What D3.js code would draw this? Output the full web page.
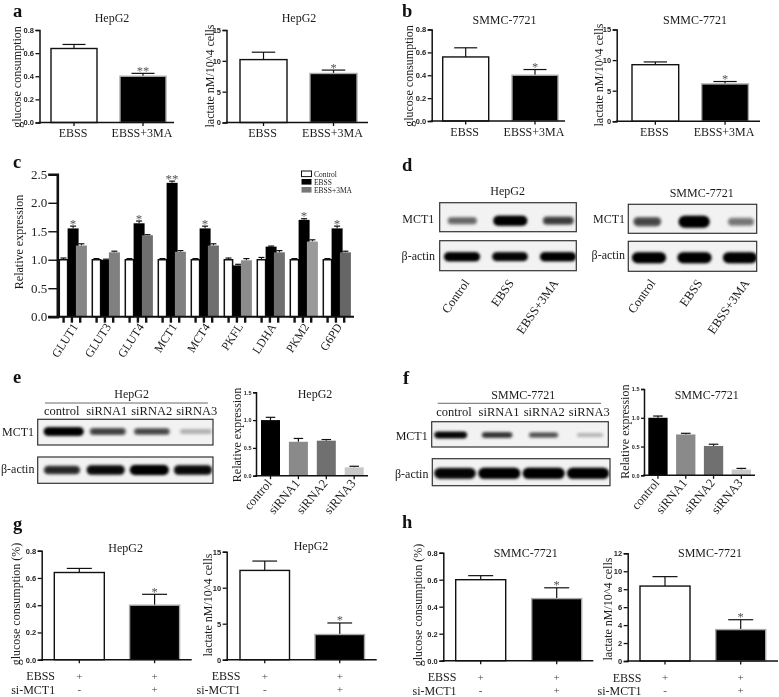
<!DOCTYPE html>
<html><head><meta charset="utf-8">
<script src="https://cdn.jsdelivr.net/npm/d3@7/dist/d3.min.js"></script>
<style>html,body{margin:0;padding:0;background:#fff}svg{display:block;filter:blur(0.35px)}</style>
</head><body><div id="c"></div>
<script>
// ---------- data ----------
const treatCats = ["EBSS", "EBSS+3MA"];
const aGlucose = [0.64, 0.40], aGlucoseErr = [0.675, 0.425], aGlucoseSig = ["", "**"];
const aLactate = [10.2, 7.95], aLactateErr = [11.4, 8.5], aLactateSig = ["", "*"];
const bGlucose = [0.56, 0.40], bGlucoseErr = [0.64, 0.45], bGlucoseSig = ["", "*"];
const bLactate = [9.25, 6.1], bLactateErr = [9.7, 6.5], bLactateSig = ["", "*"];

const genes = ["GLUT1","GLUT3","GLUT4","MCT1","MCT4","PKFL","LDHA","PKM2","G6PD"];
const cSeries = ["Control","EBSS","EBSS+3MA"];
const cControl = [1.0,1.0,1.0,1.0,1.0,1.0,1.0,1.0,1.0];
const cControlErr = [1.03,1.02,1.02,1.02,1.02,1.03,1.04,1.02,1.02];
const cEbss = [1.55,1.0,1.64,2.35,1.55,0.9,1.23,1.7,1.55];
const cEbssErr = [1.59,1.01,1.68,2.38,1.59,0.92,1.24,1.72,1.59];
const c3ma = [1.25,1.13,1.43,1.14,1.25,0.99,1.13,1.32,1.13];
const c3maErr = [1.28,1.15,1.44,1.16,1.28,1.02,1.16,1.35,1.15];
const cSig = ["*","","*","**","*","","","*","*"];
const c3maShades = ["#858585","#808080","#6f6f6f","#808080","#6e6e6e","#8c8c8c","#707070","#999999","#666666"];

const siCats = ["control","siRNA1","siRNA2","siRNA3"];
const eExpr = [1.0,0.61,0.63,0.15], eExprErr = [1.05,0.67,0.65,0.17];
const fExpr = [1.0,0.71,0.51,0.10], fExprErr = [1.03,0.73,0.54,0.12];

const mctCats = ["EBSS +","EBSS + si-MCT1"];
const gGlucose = [0.64,0.40], gGlucoseErr = [0.67,0.48];
const gLactate = [12.4,3.5], gLactateErr = [13.7,5.1];
const hGlucose = [0.60,0.46], hGlucoseErr = [0.63,0.54];
const hLactate = [8.35,3.5], hLactateErr = [9.4,4.6];
const oneSig = ["","*"];
const ebssRow = ["+","+"], siRow = ["-","+"];

const dLanes = ["Control","EBSS","EBSS+3MA"];
const dHepMct = [0.42,1.0,0.6], dHepActin = [1,0.95,1];
const dSmmcMct = [0.55,1.0,0.36], dSmmcActin = [1,1,1];
const eMct = [1.0,0.58,0.55,0.18], eActin = [0.7,0.9,1,0.9];
const fMct = [0.95,0.68,0.52,0.18], fActin = [0.95,1,1,1];

const yGlu = [0,0.2,0.4,0.6,0.8], yLac15 = [0,5,10,15], yLac12 = [0,2,4,6,8,10,12];
const yExpr = [0,0.5,1.0,1.5], yC = [0,0.5,1.0,1.5,2.0,2.5];

// ---------- drawing ----------
const W = 779, H = 697, SERIF = "'Liberation Serif','Times New Roman',serif", SANS = "'Liberation Sans',Arial,sans-serif";
const svg = d3.select("#c").append("svg").attr("width", W).attr("height", H);
const defs = svg.append("defs");
defs.append("filter").attr("id","bl").attr("x","-30%").attr("y","-80%").attr("width","160%").attr("height","260%")
  .append("feGaussianBlur").attr("stdDeviation",1.6);

function txt(s, x, y, o = {}) {
  const t = svg.append("text").attr("transform", `translate(${x},${y})` + (o.rot ? ` rotate(${o.rot})` : ""))
    .attr("font-family", o.fam || SERIF).attr("font-size", o.size || 12).attr("fill", o.fill || "#1a1a1a")
    .attr("font-weight", o.w || "normal").attr("text-anchor", o.a || "middle").text(s);
  return t;
}

function barPanel(p) {
  const bandW = (p.cats.length - 1) * p.step + p.bw;
  const x = d3.scaleBand().domain(p.cats).range([p.x0, p.x0 + bandW]).paddingInner(1 - p.bw / p.step).paddingOuter(0);
  const y = d3.scaleLinear().domain([0, p.maxV]).range([p.yBot, p.yTop]);
  const g = svg.append("g");
  const bs = g.selectAll("g.b").data(p.cats).join("g");
  bs.each(function (c, i) {
    const n = d3.select(this), cap = p.bw * (p.capFrac || 0.25), cx = x(c) + x.bandwidth() / 2;
    n.append("line").attr("x1", cx).attr("x2", cx).attr("y1", y(p.vals[i])).attr("y2", y(p.errs[i])).attr("stroke", "#111").attr("stroke-width", 1.2);
    n.append("line").attr("x1", cx - cap).attr("x2", cx + cap).attr("y1", y(p.errs[i])).attr("y2", y(p.errs[i])).attr("stroke", "#111").attr("stroke-width", 1.2);
    const f = p.fills[i], outlined = f === "#fff" || p.ring;
    n.append("rect").attr("x", x(c)).attr("width", x.bandwidth()).attr("y", y(p.vals[i])).attr("height", y(0) - y(p.vals[i]))
      .attr("fill", f).attr("stroke", outlined ? (f === "#fff" ? "#111" : "#aaa") : "none").attr("stroke-width", 1.4);
    if (p.sig && p.sig[i]) txt(p.sig[i], cx, y(p.errs[i]) + 1.5, { fill: "#555", size: 12.5 });
  });
  const ax = d3.axisLeft(y).tickValues(p.ticks).tickSize(p.tick || 4).tickPadding(1.5).tickFormat(p.fmt);
  const ga = g.append("g").attr("transform", `translate(${p.axisX},0)`).call(ax);
  ga.select(".domain").attr("stroke-width", 1.5).attr("stroke", "#111");
  ga.selectAll(".tick line").attr("stroke-width", 1.3).attr("stroke", "#111");
  ga.selectAll("text").attr("font-family", SANS).attr("font-weight", "bold").attr("font-size", p.tickFont || 7.5).attr("fill", "#222");
  g.append("line").attr("x1", p.axisX - 1).attr("x2", p.endX).attr("y1", y(0)).attr("y2", y(0)).attr("stroke", "#111").attr("stroke-width", 1.5);
  // x ticks
  const xa = d3.axisBottom(x).tickSize(3.5).tickFormat("");
  const gx = g.append("g").attr("transform", `translate(0,${y(0)})`).call(xa);
  gx.select(".domain").remove();
  gx.selectAll(".tick line").attr("stroke", "#111").attr("stroke-width", 1.3);
  p.cats.forEach(c => {
    const cx = x(c) + x.bandwidth() / 2;
    if (p.labels === "flat") txt(c, cx - 1, y(0) + 14.5);
    if (p.labels === "rot") txt(c, cx + 2, y(0) + 8, { a: "end", rot: -50, size: 12.5 });
  });
  if (p.rowX != null) {
    const ry1 = y(0) + 20.5, ry2 = y(0) + 34;
    p.cats.forEach((c, i) => {
      const cx = x(c) + x.bandwidth() / 2;
      txt(ebssRow[i], cx, ry1 - 0.5, { size: 11, fill: "#444" });
      txt(siRow[i], cx, ry2 - 1, { size: 11, fill: "#444" });
    });
    txt("EBSS", p.rowX, ry1);
    txt("si-MCT1", p.rowX - 7.5, ry2);
  }
  txt(p.title, p.titleX, p.titleY);
  txt(p.yLabel, p.yLabX, p.yLabY, { rot: -90 });
}

const f1 = d3.format(".1f"), f0 = d3.format("d");
const ink = { w: "#fff", k: "#000" };

barPanel({ cats: treatCats, vals: aGlucose, errs: aGlucoseErr, sig: aGlucoseSig, fills: [ink.w, ink.k], ring: true, x0: 51, bw: 46, step: 69, axisX: 39.5, yTop: 30, yBot: 122.5, maxV: 0.8, endX: 174, ticks: yGlu, fmt: f1, labels: "flat", title: "HepG2", titleX: 112, titleY: 22, yLabel: "glucose consumption", yLabX: 20.5, yLabY: 77 });
barPanel({ cats: treatCats, vals: aLactate, errs: aLactateErr, sig: aLactateSig, fills: [ink.w, ink.k], ring: true, x0: 240, bw: 47, step: 70, axisX: 226.5, yTop: 30, yBot: 122.5, maxV: 15, endX: 368, ticks: yLac15, fmt: f0, labels: "flat", title: "HepG2", titleX: 299, titleY: 22, yLabel: "lactate nM/10^4 cells", yLabX: 214, yLabY: 76 });
barPanel({ cats: treatCats, vals: bGlucose, errs: bGlucoseErr, sig: bGlucoseSig, fills: [ink.w, ink.k], ring: true, x0: 442.7, bw: 46, step: 69.3, axisX: 431.7, yTop: 29.5, yBot: 121, maxV: 0.8, endX: 565, ticks: yGlu, fmt: f1, labels: "flat", title: "SMMC-7721", titleX: 504.5, titleY: 24, yLabel: "glucose consumption", yLabX: 412.7, yLabY: 76 });
barPanel({ cats: treatCats, vals: bLactate, errs: bLactateErr, sig: bLactateSig, fills: [ink.w, ink.k], ring: true, x0: 632, bw: 46.7, step: 69.7, axisX: 616.7, yTop: 29.5, yBot: 121.3, maxV: 15, endX: 760, ticks: yLac15, fmt: f0, labels: "flat", title: "SMMC-7721", titleX: 695, titleY: 24, yLabel: "lactate nM/10^4 cells", yLabX: 603, yLabY: 75 });

// panel c
(function () {
  const x0 = d3.scaleBand().domain(genes).range([59.3, 59.3 + 33 * genes.length]);
  const x1 = d3.scalePoint().domain(cSeries).range([0, 16.6]);
  const y = d3.scaleLinear().domain([0, 2.5]).range([316.7, 174.3]);
  const vals = [cControl, cEbss, c3ma], errs = [cControlErr, cEbssErr, c3maErr];
  const g = svg.append("g");
  cSeries.forEach((s, si) => {
    genes.forEach((gn, i) => {
      const bx = x0(gn) + x1(s), w = si === 0 ? 8.3 : 11, cx = bx + w / 2;
      g.append("line").attr("x1", cx).attr("x2", cx).attr("y1", y(vals[si][i])).attr("y2", y(errs[si][i])).attr("stroke", "#111").attr("stroke-width", 1);
      g.append("line").attr("x1", cx - 3).attr("x2", cx + 3).attr("y1", y(errs[si][i])).attr("y2", y(errs[si][i])).attr("stroke", "#111").attr("stroke-width", 1.2);
      g.append("rect").attr("x", bx).attr("width", w).attr("y", y(vals[si][i])).attr("height", y(0) - y(vals[si][i]))
        .attr("fill", si === 0 ? "#fff" : si === 1 ? "#000" : c3maShades[i])
        .attr("stroke", si === 0 ? "#111" : "none").attr("stroke-width", 1.5);
      g.append("line").attr("x1", bx + 4.3).attr("x2", bx + 4.3).attr("y1", y(0)).attr("y2", y(0) + 6).attr("stroke", "#111").attr("stroke-width", 2.4);
    });
  });
  genes.forEach((gn, i) => {
    if (cSig[i]) txt(cSig[i], x0(gn) + x1("EBSS") + 5.5, y(cEbssErr[i]) + 1.5, { fill: "#555", size: 13 });
    txt(gn, x0(gn) + x1("EBSS") + 11, y(0) + 10, { a: "end", rot: -57, size: 12 });
  });
  const ga = g.append("g").attr("transform", "translate(57.3,0)")
    .call(d3.axisLeft(y).tickValues(yC).tickSize(9).tickPadding(1).tickFormat(f1));
  ga.select(".domain").attr("stroke-width", 2.6).attr("stroke", "#111");
  ga.selectAll(".tick line").attr("stroke-width", 1.4).attr("stroke", "#111");
  ga.selectAll("text").attr("font-family", SERIF).attr("font-size", 13).attr("fill", "#222");
  g.append("line").attr("x1", 48).attr("x2", 354).attr("y1", y(0)).attr("y2", y(0)).attr("stroke", "#111").attr("stroke-width", 2);
  txt("Relative expression", 23.3, 242, { rot: -90, size: 12 });
  const ly = d3.scalePoint().domain(cSeries).range([174, 190]);
  cSeries.forEach((s, i) => {
    svg.append("rect").attr("x", 301.5).attr("y", ly(s) - 3).attr("width", 10).attr("height", 5.6)
      .attr("fill", i === 0 ? "#fff" : i === 1 ? "#000" : "#777").attr("stroke", i === 0 ? "#111" : "none");
    txt(s, 314, ly(s) + 2.5, { a: "start", size: 7.5 });
  });
})();

// blots
function blot(b) {
  const cid = "clip" + Math.round(b.x) + Math.round(b.y);
  defs.append("clipPath").attr("id", cid).append("rect").attr("x", b.x).attr("y", b.y).attr("width", b.w).attr("height", b.h);
  svg.append("rect").attr("x", b.x).attr("y", b.y).attr("width", b.w).attr("height", b.h).attr("fill", "#f2f2f2");
  const x = d3.scalePoint().domain(b.lanes).range(b.range);
  const o = d3.scaleLinear().domain([0, 1]).range([0, 1]);
  const gb = svg.append("g").attr("clip-path", `url(#${cid})`);
  b.lanes.forEach((l, i) => {
    const v = b.vals[i], rx = b.rx * (0.78 + 0.22 * v), ry = b.ry * (0.55 + 0.45 * v);
    gb.append("rect").attr("x", x(l) - rx).attr("y", b.cy - ry).attr("width", 2 * rx).attr("height", 2 * ry).attr("rx", ry).attr("ry", ry)
      .attr("fill", "#000").attr("opacity", o(v)).attr("filter", "url(#bl)");
    gb.append("rect").attr("x", x(l) - rx * 0.9).attr("y", b.cy - ry * 0.65).attr("width", 1.8 * rx).attr("height", 1.3 * ry).attr("rx", ry * 0.6).attr("ry", ry * 0.6)
      .attr("fill", "#000").attr("opacity", o(v) * 0.7).attr("filter", "url(#bl)");
  });
  svg.append("rect").attr("x", b.x).attr("y", b.y).attr("width", b.w).attr("height", b.h).attr("fill", "none").attr("stroke", "#333").attr("stroke-width", 1.2);
}
blot({ x: 439.7, y: 202.7, w: 136.6, h: 29, lanes: dLanes, range: [462.3, 558.3], vals: dHepMct, cy: 220.7, rx: 17, ry: 5 });
blot({ x: 439.7, y: 240.7, w: 136.6, h: 30, lanes: dLanes, range: [462, 558], vals: dHepActin, cy: 256.7, rx: 18, ry: 4.5 });
blot({ x: 628.3, y: 204.3, w: 128.4, h: 29, lanes: dLanes, range: [647.3, 741], vals: dSmmcMct, cy: 221.7, rx: 15.5, ry: 6 });
blot({ x: 628.3, y: 241.3, w: 128.4, h: 30, lanes: dLanes, range: [649, 740], vals: dSmmcActin, cy: 257.7, rx: 17, ry: 5.5 });
blot({ x: 37.7, y: 419.3, w: 175.3, h: 25.7, lanes: siCats, range: [63.7, 196], vals: eMct, cy: 431.5, rx: 20, ry: 4.2 });
blot({ x: 37.7, y: 457, w: 175.3, h: 26.3, lanes: siCats, range: [62, 193], vals: eActin, cy: 470, rx: 19.5, ry: 5 });
blot({ x: 431.7, y: 421.7, w: 176.6, h: 25.3, lanes: siCats, range: [450.7, 590], vals: fMct, cy: 435, rx: 16.5, ry: 3.2 });
blot({ x: 432.3, y: 458.7, w: 177.7, h: 27, lanes: siCats, range: [455, 588], vals: fActin, cy: 473.3, rx: 21, ry: 5.5 });

// blot labels
txt("HepG2", 507.7, 195); txt("SMMC-7721", 701.7, 197.3);
txt("MCT1", 434.3, 223.3, { a: "end" }); txt("β-actin", 435, 260, { a: "end" });
txt("MCT1", 625, 223.3, { a: "end" }); txt("β-actin", 625, 259, { a: "end" });
const dxL = d3.scalePoint().domain(dLanes).range([470, 559]), dxR = d3.scalePoint().domain(dLanes).range([656, 750]);
dLanes.forEach(l => { txt(l, dxL(l), 283, { a: "end", rot: -55, size: 12.5 }); txt(l, dxR(l), 283, { a: "end", rot: -55, size: 12.5 }); });

txt("HepG2", 131.7, 398);
svg.append("line").attr("x1", 45).attr("x2", 208).attr("y1", 403).attr("y2", 403).attr("stroke", "#444").attr("stroke-width", 0.8);
const exL = d3.scalePoint().domain(siCats).range([61.7, 196.7]);
siCats.forEach(c => txt(c, exL(c), 414.5, { size: 12.5 }));
txt("MCT1", 2, 435.7, { a: "start" }); txt("β-actin", 1, 473, { a: "start" });

txt("SMMC-7721", 523.3, 399);
svg.append("line").attr("x1", 437.7).attr("x2", 601).attr("y1", 403.3).attr("y2", 403.3).attr("stroke", "#444").attr("stroke-width", 0.8);
const fxL = d3.scalePoint().domain(siCats).range([454, 589.3]);
siCats.forEach(c => txt(c, fxL(c), 415.7, { size: 12.5 }));
txt("MCT1", 395.7, 440, { a: "start" }); txt("β-actin", 395, 477.7, { a: "start" });

const siFills = ["#000", "#8a8a8a", "#707070", "#c8c8c8"];
barPanel({ cats: siCats, vals: eExpr, errs: eExprErr, fills: siFills, x0: 261, bw: 19, step: 27.9, axisX: 256, yTop: 392.3, yBot: 475.7, maxV: 1.5, endX: 368, ticks: yExpr, fmt: f1, tick: 3, tickFont: 5.5, labels: "rot", title: "HepG2", titleX: 315, titleY: 398, yLabel: "Relative expression", yLabX: 240.7, yLabY: 435 });
barPanel({ cats: siCats, vals: fExpr, errs: fExprErr, fills: siFills, x0: 648.3, bw: 19.3, step: 27.8, axisX: 644, yTop: 389, yBot: 475.3, maxV: 1.5, endX: 755, ticks: yExpr, fmt: f1, tick: 3, tickFont: 5.5, labels: "rot", title: "SMMC-7721", titleX: 706.7, titleY: 398.5, yLabel: "Relative expression", yLabX: 629, yLabY: 431.7 });

barPanel({ cats: mctCats, vals: gGlucose, errs: gGlucoseErr, sig: oneSig, fills: [ink.w, ink.k], ring: true, x0: 54.3, bw: 50, step: 75.3, axisX: 41.7, yTop: 550.7, yBot: 659.7, maxV: 0.8, endX: 191.7, ticks: yGlu, fmt: f1, labels: "none", rowX: 40.7, title: "HepG2", titleX: 125.7, titleY: 551.7, yLabel: "glucose consumption (%)", yLabX: 20, yLabY: 604 });
barPanel({ cats: mctCats, vals: gLactate, errs: gLactateErr, sig: oneSig, fills: [ink.w, ink.k], ring: true, x0: 240, bw: 49.5, step: 75, axisX: 226.7, yTop: 551.7, yBot: 659.7, maxV: 15, endX: 376.7, ticks: yLac15, fmt: f0, labels: "none", rowX: 226, title: "HepG2", titleX: 311, titleY: 550, yLabel: "lactate nM/10^4 cells", yLabX: 211.7, yLabY: 605 });
barPanel({ cats: mctCats, vals: hGlucose, errs: hGlucoseErr, sig: oneSig, fills: [ink.w, ink.k], ring: true, x0: 455.7, bw: 50, step: 76, axisX: 443.3, yTop: 552.7, yBot: 660.7, maxV: 0.8, endX: 593.3, ticks: yGlu, fmt: f1, labels: "none", rowX: 442, title: "SMMC-7721", titleX: 525.7, titleY: 557, yLabel: "glucose consumption (%)", yLabX: 421.7, yLabY: 605 });
barPanel({ cats: mctCats, vals: hLactate, errs: hLactateErr, sig: oneSig, fills: [ink.w, ink.k], ring: true, x0: 640, bw: 50, step: 75.7, axisX: 627.7, yTop: 553.3, yBot: 661, maxV: 12, endX: 778, ticks: yLac12, fmt: f0, labels: "none", rowX: 627, title: "SMMC-7721", titleX: 710, titleY: 557, yLabel: "lactate nM/10^4 cells", yLabX: 611.7, yLabY: 609 });

// panel letters
[["a",13,16.5],["b",402,16.5],["c",13,168],["d",402,171],["e",13,383],["f",403,384],["g",13,530],["h",402,528]]
  .forEach(d => txt(d[0], d[1], d[2], { a: "start", w: "bold", size: 18.5, fill: "#111" }));
</script></body></html>
